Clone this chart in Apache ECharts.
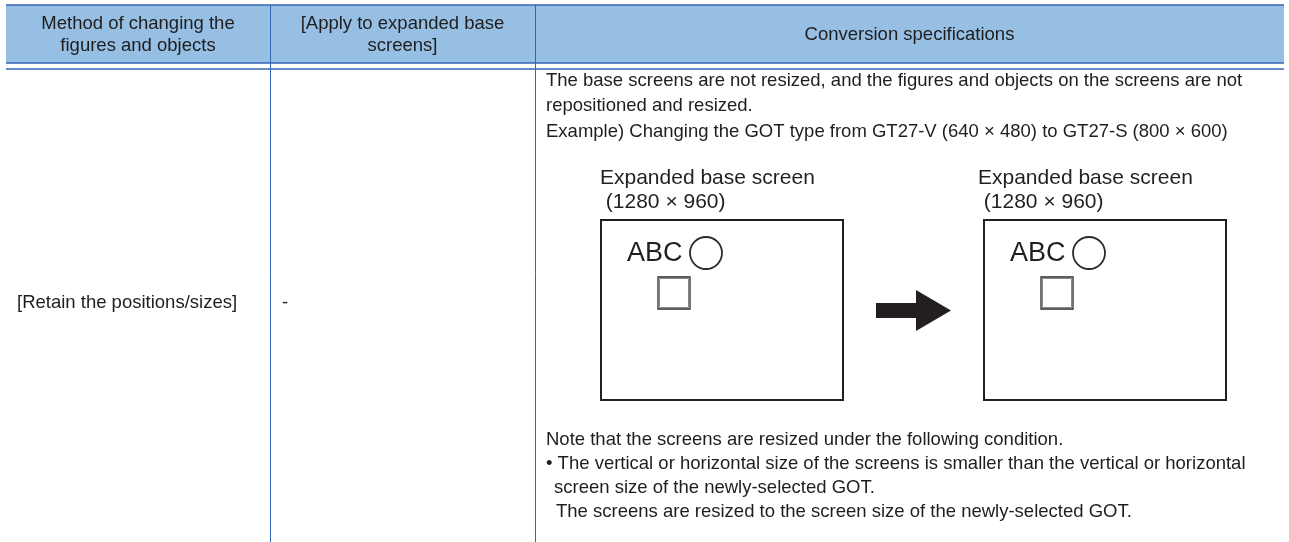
<!DOCTYPE html>
<html><head><meta charset="utf-8">
<script src="https://cdn.jsdelivr.net/npm/echarts@6/dist/echarts.min.js"></script>
<style>html,body{margin:0;padding:0;background:#fff}#c{width:1289px;height:542px}</style>
</head><body><div id="c"></div>
<script>
// ---- content ----
const headers = [["Method of changing the", "figures and objects"], ["[Apply to expanded base", "screens]"], ["Conversion specifications"]];
const rowCells = ["[Retain the positions/sizes]", "-"];
const specLinesTop = [
  "The base screens are not resized, and the figures and objects on the screens are not",
  "repositioned and resized.",
  "Example) Changing the GOT type from GT27-V (640 × 480) to GT27-S (800 × 600)"
];
const diagramTitles = ["Expanded base screen", " (1280 × 960)"];
const diagramObjectLabel = "ABC";
const specLinesBottom = [
  "Note that the screens are resized under the following condition.",
  "• The vertical or horizontal size of the screens is smaller than the vertical or horizontal",
  "screen size of the newly-selected GOT.",
  "The screens are resized to the screen size of the newly-selected GOT."
];

// ---- layout ----
const colEdges = [6, 270, 535, 1284];
const topY = 5, headBottom = 63, headSecond = 69, bottomY = 542;
const lineColor = '#3464b4', headFill = '#97BFE4', textColor = '#1e1e1e', ink = '#231f20';
const FONT = '"Liberation Sans", Arial, Helvetica, sans-serif';
const FS = 18.5;

const els = [];
function txt(t, x, y, size, align, color) {
  els.push({type: 'text', silent: true, style: {text: t, x: x, y: y, fontSize: size, fontFamily: FONT,
    fill: color || textColor, textAlign: align || 'left', align: align || 'left',
    textVerticalAlign: 'middle', verticalAlign: 'middle'}});
}
function line(x1, y1, x2, y2, w, c) {
  els.push({type: 'line', silent: true, shape: {x1, y1, x2, y2}, style: {stroke: c || lineColor, lineWidth: w}});
}

// header
els.push({type: 'rect', silent: true, shape: {x: colEdges[0], y: topY, width: colEdges[3] - colEdges[0], height: headBottom - topY}, style: {fill: headFill}});
line(colEdges[0], topY, colEdges[3], topY, 1.5);
line(colEdges[0], headBottom, colEdges[3], headBottom, 1.5);
line(colEdges[0], headSecond, colEdges[3], headSecond, 1.5);
[1, 2].forEach(i => line(colEdges[i] + 0.5, topY, colEdges[i] + 0.5, bottomY, 1));

const headMid = (topY + headBottom) / 2 + 1, headLH = 22;
headers.forEach((lines, i) => {
  const cx = (colEdges[i] + colEdges[i + 1]) / 2;
  const y0 = headMid - (lines.length - 1) * headLH / 2;
  lines.forEach((t, k) => txt(t, cx, y0 + k * headLH, FS, 'center'));
});

// body row cells
const rowMid = 303;
txt(rowCells[0], colEdges[0] + 11, rowMid, FS);
txt(rowCells[1], colEdges[1] + 12, rowMid, FS);

// spec text top
const specX = colEdges[2] + 11;
[81, 106, 132].forEach((y, k) => txt(specLinesTop[k], specX, y, FS));

// diagrams
const boxes = [{x: 601, lx: 600}, {x: 984, lx: 978}];
const boxW = 242, boxTop = 220, boxBottom = 400;
boxes.forEach(b => {
  txt(diagramTitles[0], b.lx, 178, 21, 'left', ink);
  txt(diagramTitles[1], b.lx, 202, 21, 'left', ink);
  els.push({type: 'rect', silent: true, shape: {x: b.x, y: boxTop, width: boxW, height: boxBottom - boxTop}, style: {fill: '#fff', stroke: ink, lineWidth: 2}});
  txt(diagramObjectLabel, b.x + 26, 254, 27, 'left', ink);
  els.push({type: 'circle', silent: true, shape: {cx: b.x + 105, cy: 253, r: 16}, style: {fill: '#fff', stroke: '#2a2a2a', lineWidth: 1.8}});
  els.push({type: 'rect', silent: true, shape: {x: b.x + 57, y: 277, width: 32, height: 32}, style: {fill: '#fff', stroke: '#2a2a2a', lineWidth: 1.3}});
  els.push({type: 'rect', silent: true, shape: {x: b.x + 58.5, y: 278.5, width: 29, height: 29}, style: {fill: 'none', stroke: '#888', lineWidth: 1}});
});
// arrow
els.push({type: 'polygon', silent: true, shape: {points: [[876, 303], [916, 303], [916, 290], [951, 310.5], [916, 331], [916, 318], [876, 318]]}, style: {fill: ink}});

// spec text bottom
txt(specLinesBottom[0], specX, 440, FS);
txt(specLinesBottom[1], specX, 464, FS);
txt(specLinesBottom[2], specX + 8, 488, FS);
txt(specLinesBottom[3], specX + 10, 512, FS);

const chart = echarts.init(document.getElementById('c'), null, {renderer: 'canvas'});
chart.setOption({animation: false, backgroundColor: '#fff', graphic: {elements: els}});
</script>
</body></html>
